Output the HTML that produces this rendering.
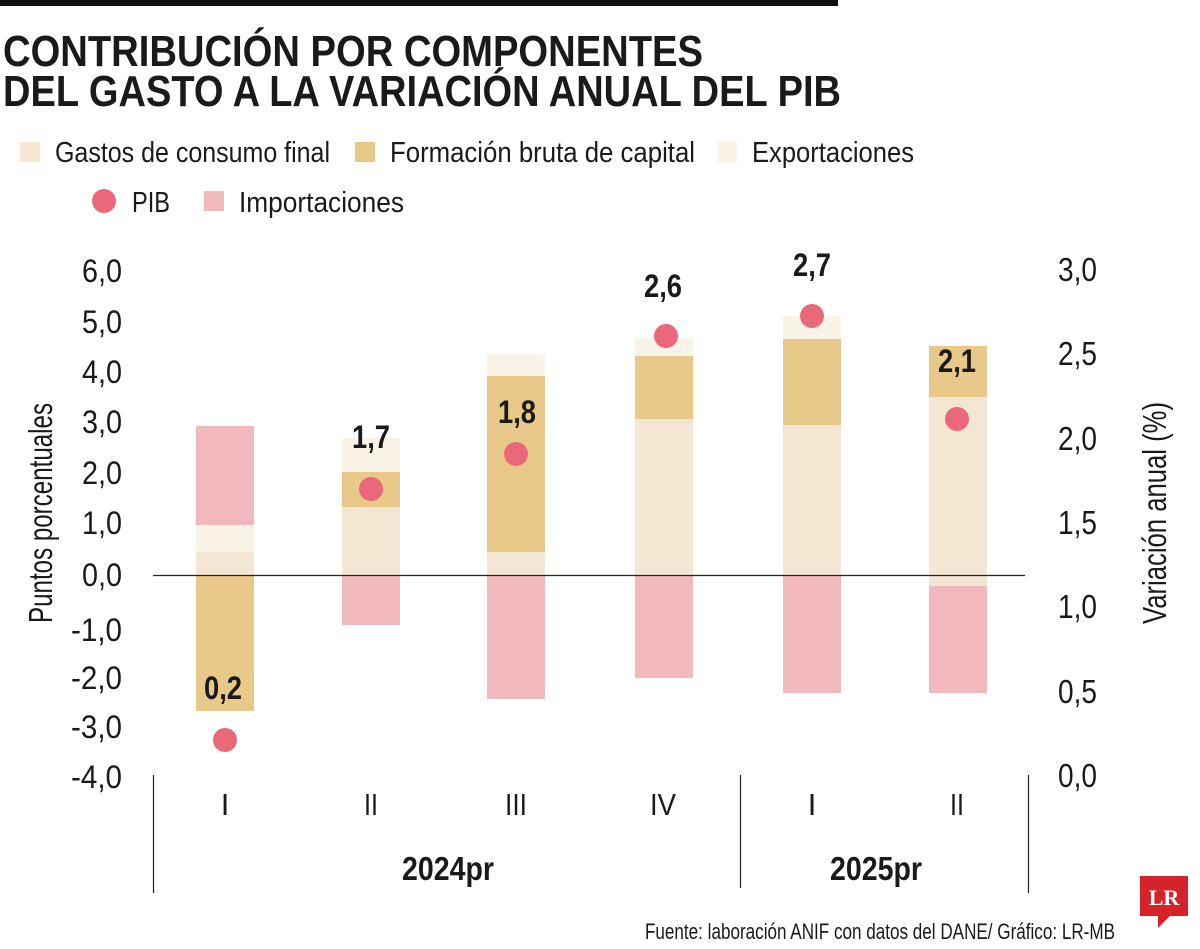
<!DOCTYPE html>
<html><head><meta charset="utf-8"><style>
html,body{margin:0;padding:0;background:#fff}
svg{display:block}
text{font-family:"Liberation Sans Narrow","Liberation Sans",sans-serif;fill:#1a1a1a}
</style></head><body>
<svg width="1200" height="949" viewBox="0 0 1200 949" xmlns="http://www.w3.org/2000/svg">
<rect x="0" y="0" width="838" height="6" fill="#111"/>
<text x="3" y="66" font-size="44" font-weight="bold" textLength="700" lengthAdjust="spacingAndGlyphs">CONTRIBUCIÓN POR COMPONENTES</text>
<text x="3" y="106" font-size="44" font-weight="bold" textLength="838" lengthAdjust="spacingAndGlyphs">DEL GASTO A LA VARIACIÓN ANUAL DEL PIB</text>
<g font-size="29">
<rect x="20" y="142" width="20" height="20" fill="#f3e6d3"/>
<text x="55" y="162" textLength="275" lengthAdjust="spacingAndGlyphs">Gastos de consumo final</text>
<rect x="355" y="142" width="20" height="20" fill="#e8c98a"/>
<text x="390" y="162" textLength="305" lengthAdjust="spacingAndGlyphs">Formación bruta de capital</text>
<rect x="717" y="142" width="20" height="20" fill="#faf3e8"/>
<text x="752" y="162" textLength="162" lengthAdjust="spacingAndGlyphs">Exportaciones</text>
<circle cx="104" cy="201" r="12" fill="#e9687a"/>
<text x="132" y="212" textLength="38" lengthAdjust="spacingAndGlyphs">PIB</text>
<rect x="204" y="191" width="20" height="20" fill="#f2b9bd"/>
<text x="239" y="212" textLength="165" lengthAdjust="spacingAndGlyphs">Importaciones</text>
</g>
<g font-size="32" text-anchor="end">
<text x="122" y="282" textLength="40" lengthAdjust="spacingAndGlyphs">6,0</text>
<text x="122" y="333" textLength="40" lengthAdjust="spacingAndGlyphs">5,0</text>
<text x="122" y="383" textLength="40" lengthAdjust="spacingAndGlyphs">4,0</text>
<text x="122" y="433" textLength="40" lengthAdjust="spacingAndGlyphs">3,0</text>
<text x="122" y="484" textLength="40" lengthAdjust="spacingAndGlyphs">2,0</text>
<text x="122" y="534" textLength="40" lengthAdjust="spacingAndGlyphs">1,0</text>
<text x="122" y="586" textLength="40" lengthAdjust="spacingAndGlyphs">0,0</text>
<text x="122" y="641" textLength="51" lengthAdjust="spacingAndGlyphs">-1,0</text>
<text x="122" y="689" textLength="51" lengthAdjust="spacingAndGlyphs">-2,0</text>
<text x="122" y="738" textLength="51" lengthAdjust="spacingAndGlyphs">-3,0</text>
<text x="122" y="788" textLength="51" lengthAdjust="spacingAndGlyphs">-4,0</text>
</g>
<g font-size="33" text-anchor="start">
<text x="1058" y="281" textLength="39" lengthAdjust="spacingAndGlyphs">3,0</text>
<text x="1058" y="365" textLength="39" lengthAdjust="spacingAndGlyphs">2,5</text>
<text x="1058" y="450" textLength="39" lengthAdjust="spacingAndGlyphs">2,0</text>
<text x="1058" y="534" textLength="39" lengthAdjust="spacingAndGlyphs">1,5</text>
<text x="1058" y="618" textLength="39" lengthAdjust="spacingAndGlyphs">1,0</text>
<text x="1058" y="703" textLength="39" lengthAdjust="spacingAndGlyphs">0,5</text>
<text x="1058" y="787" textLength="39" lengthAdjust="spacingAndGlyphs">0,0</text>
</g>
<text transform="translate(52,513) rotate(-90)" font-size="33" text-anchor="middle" textLength="220" lengthAdjust="spacingAndGlyphs">Puntos porcentuales</text>
<text transform="translate(1166,513) rotate(-90)" font-size="33" text-anchor="middle" textLength="222" lengthAdjust="spacingAndGlyphs">Variación anual (%)</text>
<g>
<rect x="196" y="426" width="58" height="99" fill="#f2b9bd"/>
<rect x="196" y="525" width="58" height="27" fill="#faf3e8"/>
<rect x="196" y="552" width="58" height="23" fill="#f3e6d3"/>
<rect x="196" y="575" width="58" height="136" fill="#e8c98a"/>

<rect x="342" y="438" width="58" height="34" fill="#faf3e8"/>
<rect x="342" y="472" width="58" height="35" fill="#e8c98a"/>
<rect x="342" y="507" width="58" height="68" fill="#f3e6d3"/>
<rect x="342" y="575" width="58" height="50" fill="#f2b9bd"/>

<rect x="487" y="354" width="58" height="22" fill="#faf3e8"/>
<rect x="487" y="376" width="58" height="176" fill="#e8c98a"/>
<rect x="487" y="552" width="58" height="23" fill="#f3e6d3"/>
<rect x="487" y="575" width="58" height="124" fill="#f2b9bd"/>

<rect x="635" y="338" width="58" height="18" fill="#faf3e8"/>
<rect x="635" y="356" width="58" height="63" fill="#e8c98a"/>
<rect x="635" y="419" width="58" height="156" fill="#f3e6d3"/>
<rect x="635" y="575" width="58" height="103" fill="#f2b9bd"/>

<rect x="783" y="316" width="58" height="23" fill="#faf3e8"/>
<rect x="783" y="339" width="58" height="86" fill="#e8c98a"/>
<rect x="783" y="425" width="58" height="150" fill="#f3e6d3"/>
<rect x="783" y="575" width="58" height="118" fill="#f2b9bd"/>

<rect x="929" y="346" width="58" height="51" fill="#e8c98a"/>
<rect x="929" y="397" width="58" height="189" fill="#f3e6d3"/>
<rect x="929" y="586" width="58" height="107" fill="#f2b9bd"/>
</g>
<line x1="153" y1="575.5" x2="1025" y2="575.5" stroke="#222" stroke-width="1.2"/>
<g fill="#e9687a">
<circle cx="225" cy="740" r="12"/><circle cx="371" cy="489" r="12"/><circle cx="516" cy="454" r="12"/>
<circle cx="666" cy="336" r="12"/><circle cx="812" cy="316" r="12"/><circle cx="957" cy="419" r="12"/>
</g>
<g font-size="32" font-weight="bold" text-anchor="middle">
<text x="223" y="699" textLength="38" lengthAdjust="spacingAndGlyphs">0,2</text>
<text x="371" y="448" textLength="38" lengthAdjust="spacingAndGlyphs">1,7</text>
<text x="517" y="423" textLength="38" lengthAdjust="spacingAndGlyphs">1,8</text>
<text x="663" y="297" textLength="38" lengthAdjust="spacingAndGlyphs">2,6</text>
<text x="812" y="276" textLength="38" lengthAdjust="spacingAndGlyphs">2,7</text>
<text x="957" y="372" textLength="38" lengthAdjust="spacingAndGlyphs">2,1</text>
</g>
<g stroke="#222" stroke-width="1.2">
<line x1="153.5" y1="775" x2="153.5" y2="893"/>
<line x1="740.5" y1="775" x2="740.5" y2="888"/>
<line x1="1028.5" y1="775" x2="1028.5" y2="893"/>
</g>
<g font-size="31" text-anchor="middle">
<text x="225" y="815">I</text><text x="371" y="815" textLength="14" lengthAdjust="spacingAndGlyphs">II</text><text x="516" y="815" textLength="22" lengthAdjust="spacingAndGlyphs">III</text>
<text x="663" y="815" textLength="26" lengthAdjust="spacingAndGlyphs">IV</text><text x="812" y="815">I</text><text x="957" y="815" textLength="14" lengthAdjust="spacingAndGlyphs">II</text>
</g>
<g font-size="33" font-weight="bold" text-anchor="middle">
<text x="448" y="880" textLength="92" lengthAdjust="spacingAndGlyphs">2024pr</text>
<text x="876" y="880" textLength="92" lengthAdjust="spacingAndGlyphs">2025pr</text>
</g>
<text x="1115" y="939" font-size="22" text-anchor="end" fill="#333" textLength="470" lengthAdjust="spacingAndGlyphs">Fuente: laboración ANIF con datos del DANE/ Gráfico: LR-MB</text>
<rect x="1140" y="876" width="48" height="40" fill="#d5232b"/>
<polygon points="1158,916 1170,916 1158,928" fill="#d5232b"/>
<text x="1164" y="905" font-size="22" font-weight="bold" text-anchor="middle" style="fill:#fff;font-family:'Liberation Serif',serif">LR</text>
</svg>
</body></html>
